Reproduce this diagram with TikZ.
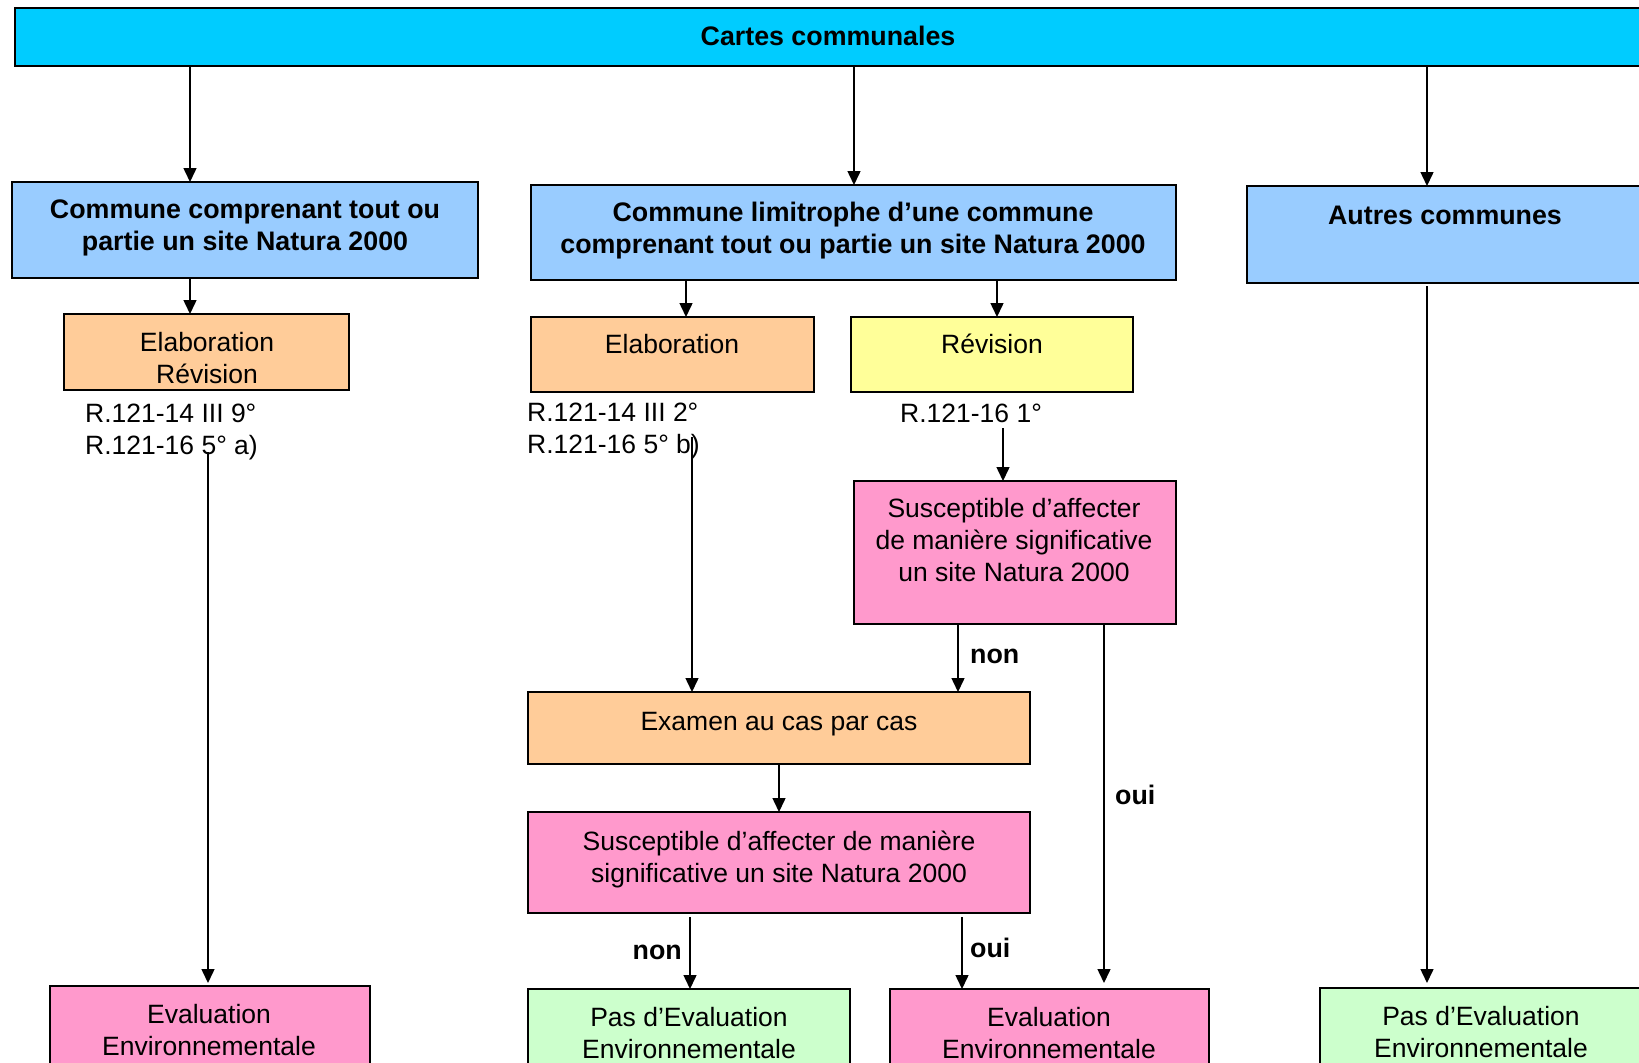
\documentclass[tikz,border=0pt]{standalone}
\usepackage{fontspec}
\setmainfont{Liberation Sans}
\usetikzlibrary{arrows.meta}
\definecolor{cTop}{HTML}{00CCFF}
\definecolor{cBlue}{HTML}{99CCFF}
\definecolor{cOrange}{HTML}{FFCC99}
\definecolor{cYellow}{HTML}{FFFF99}
\definecolor{cPink}{HTML}{FF99CC}
\definecolor{cGreen}{HTML}{CCFFCC}
\begin{document}
\begin{tikzpicture}[x=1pt,y=-1pt,
  bx/.style={draw=black,line width=1.6pt,anchor=north west,inner sep=0pt,outer sep=0pt,rectangle},
  txt/.style={font=\fontsize{26.5}{32}\selectfont,align=center,inner sep=0pt},
  btxt/.style={font=\bfseries\fontsize{26.8}{32}\selectfont,align=center,inner sep=0pt},
  arr/.style={line width=1.5pt,-{Triangle[length=14pt,width=13pt]}}]
\useasboundingbox (0,0) rectangle (1639,1063);
\clip (0,0) rectangle (1639,1063);
\fill[white] (0,0) rectangle (1639,1063);
% boxes
\node[bx,fill=cTop,minimum width=1635pt,minimum height=58pt] (top) at (15,8) {};
\node[bx,fill=cBlue,minimum width=466pt,minimum height=96pt] (bA) at (12,182) {};
\node[bx,fill=cBlue,minimum width=645pt,minimum height=95pt] (bB) at (531,185) {};
\node[bx,fill=cBlue,minimum width=403pt,minimum height=97pt] (bC) at (1247,186) {};
\node[bx,fill=cOrange,minimum width=285pt,minimum height=76pt] (bA1) at (64,314) {};
\node[bx,fill=cOrange,minimum width=283pt,minimum height=75pt] (bB1) at (531,317) {};
\node[bx,fill=cYellow,minimum width=282pt,minimum height=75pt] (bB2) at (851,317) {};
\node[bx,fill=cPink,minimum width=322pt,minimum height=143pt] (bS1) at (854,481) {};
\node[bx,fill=cOrange,minimum width=502pt,minimum height=72pt] (bEx) at (528,692) {};
\node[bx,fill=cPink,minimum width=502pt,minimum height=101pt] (bS2) at (528,812) {};
\node[bx,fill=cPink,minimum width=320pt,minimum height=90pt] (bEA) at (50,986) {};
\node[bx,fill=cGreen,minimum width=322pt,minimum height=90pt] (bP1) at (528,989) {};
\node[bx,fill=cPink,minimum width=319pt,minimum height=90pt] (bE2) at (890,989) {};
\node[bx,fill=cGreen,minimum width=330pt,minimum height=90pt] (bP2) at (1320,988) {};
% texts
\node[btxt] (tTop) at (828,36) {Cartes communales};
\node[btxt] (tA) at (245,228) {Commune comprenant tout ou\\partie un site Natura 2000};
\node[btxt] (tB) at (853,230.5) {Commune limitrophe d’une commune\\comprenant tout ou partie un site Natura 2000};
\node[btxt] (tC) at (1445,215) {Autres communes};
\node[txt] (tA1) at (207,358) {Elaboration\\Révision};
\node[txt,align=left,anchor=west] (rA) at (85,432) {R.121-14 III 9°\\R.121-16 5° a)};
\node[txt] (tB1) at (672,344) {Elaboration};
\node[txt,align=left,anchor=west] (rB) at (527,431) {R.121-14 III 2°\\R.121-16 5° b)};
\node[txt] (tB2) at (992,344) {Révision};
\node[txt,anchor=west] (rC) at (900,413) {R.121-16 1°};
\node[txt] (tS1) at (1014,540.5) {Susceptible d’affecter\\de manière significative\\un site Natura 2000};
\node[txt] (tEx) at (779,724) {Examen au cas par cas};
\node[txt] (tS2) at (779,859.5) {Susceptible d’affecter de manière\\significative un site Natura 2000};
\node[txt] (tEA) at (209,1030) {Evaluation\\Environnementale};
\node[txt] (tP1) at (689,1033) {Pas d’Evaluation\\Environnementale};
\node[txt] (tE2) at (1049,1033) {Evaluation\\Environnementale};
\node[txt] (tP2) at (1481,1032) {Pas d’Evaluation\\Environnementale};
\node[btxt,anchor=west] (lnon1) at (970,656) {non};
\node[btxt,anchor=west] (loui1) at (1115,795) {oui};
\node[btxt,anchor=east] (lnon2) at (682,952) {non};
\node[btxt,anchor=west] (loui2) at (970,948) {oui};
% columns
\coordinate (x190) at (190,0);
\coordinate (x854) at (854,0);
\coordinate (x1427) at (1427,0);
\coordinate (x686) at (686,0);
\coordinate (x997) at (997,0);
\coordinate (x958) at (958,0);
\coordinate (x1104) at (1104,0);
\coordinate (x779) at (779,0);
\coordinate (x690) at (690,0);
\coordinate (x962) at (962,0);
\coordinate (sA) at (208,452);
\coordinate (sB) at (692,437);
\coordinate (sC) at (1003,428);
% connectors
\draw[arr] (top.south -| x190) -- (bA.north -| x190);
\draw[arr] (top.south -| x854) -- (bB.north -| x854);
\draw[arr] (top.south -| x1427) -- (bC.north -| x1427);
\draw[arr] (bA.south -| x190) -- (bA1.north -| x190);
\draw[arr] (bB.south -| x686) -- (bB1.north -| x686);
\draw[arr] (bB.south -| x997) -- (bB2.north -| x997);
\draw[arr,shorten >=3pt] (sA) -- (bEA.north -| sA);
\draw[arr] (sB) -- (bEx.north -| sB);
\draw[arr] (sC) -- (bS1.north -| sC);
\draw[arr] (bS1.south -| x958) -- (bEx.north -| x958);
\draw[arr,shorten >=6pt] (bS1.south -| x1104) -- (bE2.north -| x1104);
\draw[arr] (bEx.south -| x779) -- (bS2.north -| x779);
\draw[arr,shorten <=4pt] (bS2.south -| x690) -- (bP1.north -| x690);
\draw[arr,shorten <=4pt] (bS2.south -| x962) -- (bE2.north -| x962);
\draw[arr,shorten <=3pt,shorten >=5pt] (bC.south -| x1427) -- (bP2.north -| x1427);
\end{tikzpicture}
\end{document}
